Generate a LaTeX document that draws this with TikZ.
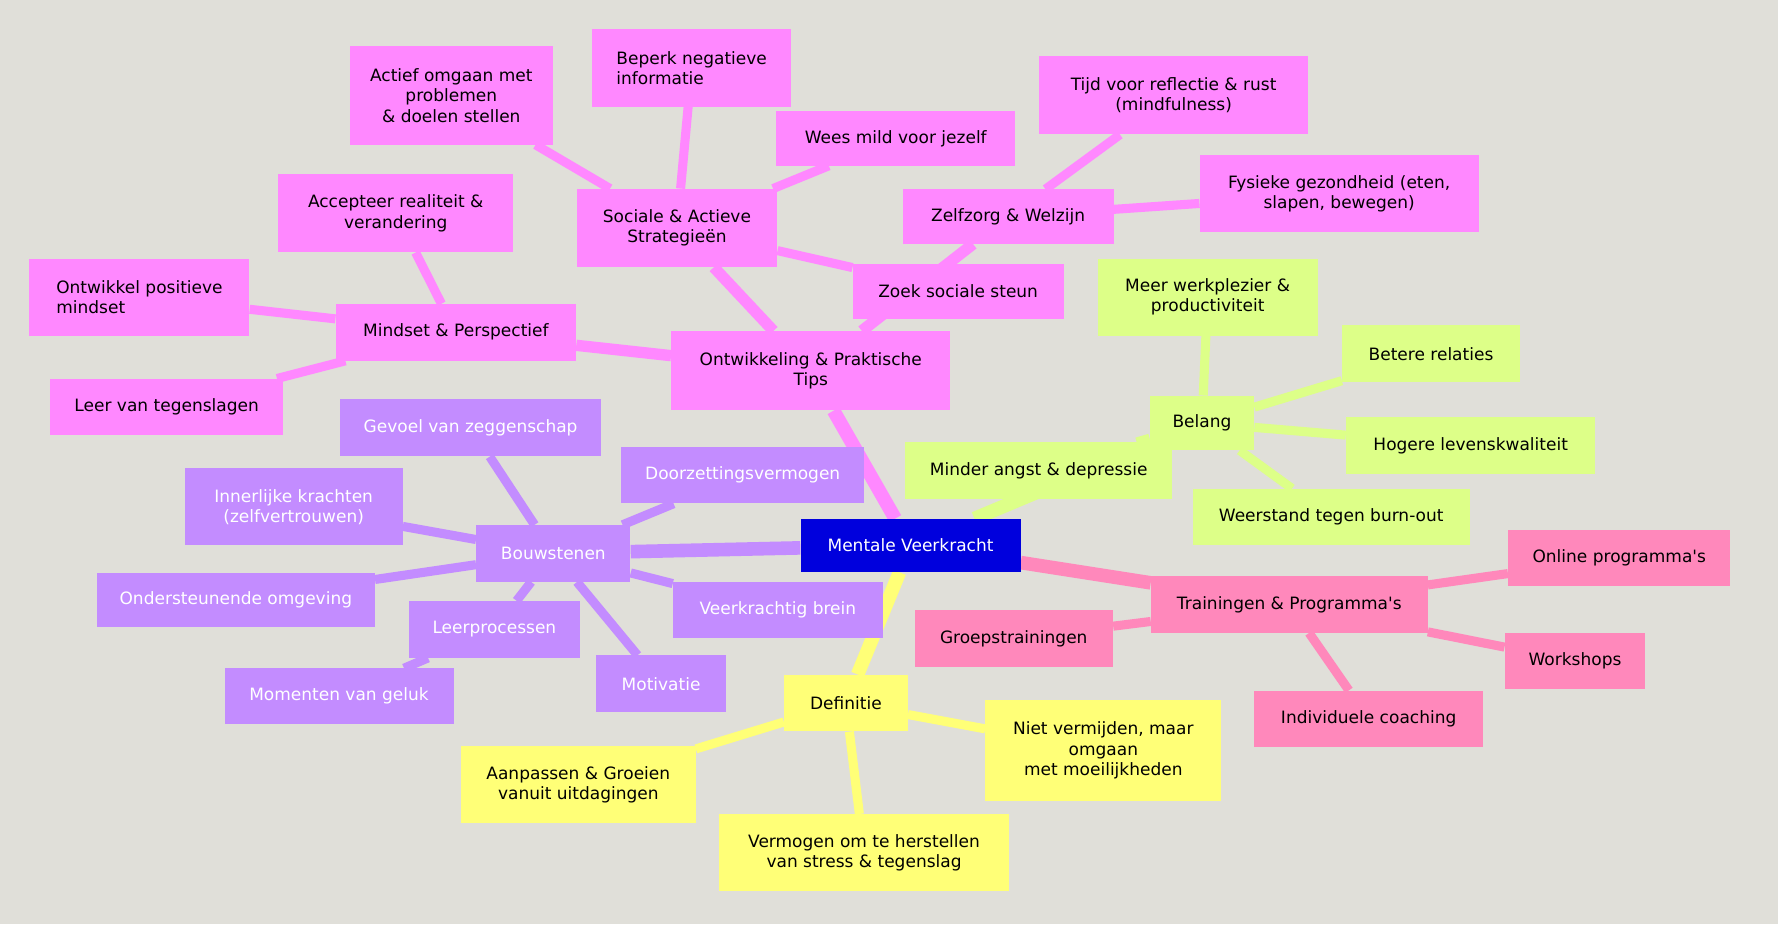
\documentclass[tikz,border=0pt]{standalone}
\usepackage{fontspec}
\setmainfont{DejaVu Sans}
\usetikzlibrary{backgrounds}
\definecolor{bg}{HTML}{E0DFD9}
\definecolor{cRoot}{HTML}{0000DD}
\definecolor{cMag}{HTML}{FF88FF}
\definecolor{cPur}{HTML}{C38CFF}
\definecolor{cGrn}{HTML}{DDFF88}
\definecolor{cPnk}{HTML}{FF88BB}
\definecolor{cYel}{HTML}{FFFF77}
\tikzset{
 box/.style={inner sep=0pt, align=center, font=\fontsize{15}{18}\selectfont, text=black},
 bm/.style={box, fill=cMag},
 bp/.style={box, fill=cPur, text=white},
 bg2/.style={box, fill=cGrn},
 bk/.style={box, fill=cPnk},
 by/.style={box, fill=cYel},
 e1/.style={line width=12pt},
 e2/.style={line width=8pt},
}
\newcommand{\bx}[6]{\node[#1, minimum width=#4pt, minimum height=#5pt] (#2) at (#3) {#6};}
\begin{document}
\begin{tikzpicture}[x=1pt,y=-1pt]
\useasboundingbox (0,0) rectangle (1568,815);
\bx{box, fill=cRoot, text=white}{root}{803,481}{194}{47}{Mentale Veerkracht}
% magenta
\bx{bm}{ont}{715,327}{246}{70}{Ontwikkeling \& Praktische\\Tips}
\bx{bm}{mind}{402,293}{212}{50}{Mindset \& Perspectief}
\bx{bm}{soc}{597,201}{177}{69}{Sociale \& Actieve\\Strategieën}
\bx{bm}{zelf}{889,191}{186}{48}{Zelfzorg \& Welzijn}
\bx{bm}{zoek}{845,257}{186}{48}{Zoek sociale steun}
\bx{bm}{act}{398,84}{179}{87}{Actief omgaan met\\problemen\\\& doelen stellen}
\bx{bm, align=left}{bep}{610,60}{176}{68}{Beperk negatieve\\informatie}
\bx{bm}{wees}{790,122}{211}{48}{Wees mild voor jezelf}
\bx{bm}{tijd}{1035,84}{237}{69}{Tijd voor reflectie \& rust\\(mindfulness)}
\bx{bm}{fys}{1181,171}{246}{68}{Fysieke gezondheid (eten,\\slapen, bewegen)}
\bx{bm}{acc}{349,188}{207}{69}{Accepteer realiteit \&\\verandering}
\bx{bm, align=left}{pos}{123,262}{194}{68}{Ontwikkel positieve\\mindset}
\bx{bm}{leer}{147,359}{206}{50}{Leer van tegenslagen}
% purple
\bx{bp}{bouw}{488,488}{136}{50}{Bouwstenen}
\bx{bp}{gev}{415,377}{230}{51}{Gevoel van zeggenschap}
\bx{bp}{door}{655,419}{214}{50}{Doorzettingsvermogen}
\bx{bp}{inn}{259,447}{192}{68}{Innerlijke krachten\\(zelfvertrouwen)}
\bx{bp}{ond}{208,529}{245}{48}{Ondersteunende omgeving}
\bx{bp}{lp}{436,555}{151}{50}{Leerprocessen}
\bx{bp}{brein}{686,538}{185}{50}{Veerkrachtig brein}
\bx{bp}{gel}{299,614}{202}{49}{Momenten van geluk}
\bx{bp}{mot}{583,603}{114}{50}{Motivatie}
% green
\bx{bg2}{bel}{1060,373}{92}{48}{Belang}
\bx{bg2}{werk}{1065,262}{194}{68}{Meer werkplezier \&\\productiviteit}
\bx{bg2}{rel}{1262,312}{157}{50}{Betere relaties}
\bx{bg2}{lev}{1297,393}{220}{50}{Hogere levenskwaliteit}
\bx{bg2}{weer}{1174,456}{244}{50}{Weerstand tegen burn-out}
\bx{bg2}{angst}{916,415}{236}{50}{Minder angst \& depressie}
% pink
\bx{bk}{tr}{1137,533}{244}{50}{Trainingen \& Programma\textquotesingle s}
\bx{bk}{onl}{1428,492}{196}{49}{Online programma\textquotesingle s}
\bx{bk}{groep}{894,563}{175}{50}{Groepstrainingen}
\bx{bk}{work}{1389,583}{124}{50}{Workshops}
\bx{bk}{ind}{1207,634}{202}{50}{Individuele coaching}
% yellow
\bx{by}{def}{746,620}{109}{50}{Definitie}
\bx{by}{aan}{510,692}{207}{68}{Aanpassen \& Groeien\\vanuit uitdagingen}
\bx{by}{niet}{973,662}{208}{89}{Niet vermijden, maar\\omgaan\\met moeilijkheden}
\bx{by}{verm}{762,752}{256}{68}{Vermogen om te herstellen\\van stress \& tegenslag}
\begin{scope}[on background layer]
\fill[bg] (0,0) rectangle (1568,815);
\draw[e1,cMag] (root) -- (ont);
\draw[e1,cPur] (root) -- (bouw);
\draw[e1,cGrn] (root) -- (bel);
\draw[e1,cPnk] (root) -- (tr);
\draw[e1,cYel] (root) -- (def);
\foreach \a/\b in {ont/mind,ont/soc,ont/zelf}{\draw[line width=10pt,cMag] (\a) -- (\b);}
\foreach \a/\b in {soc/zoek,soc/act,soc/bep,soc/wees,zelf/tijd,zelf/fys,mind/acc,mind/pos,mind/leer}{\draw[e2,cMag] (\a) -- (\b);}
\foreach \b in {gev,door,inn,ond,lp,brein,mot}{\draw[e2,cPur] (bouw) -- (\b);}
\draw[e2,cPur] (lp) -- (gel);
\foreach \b in {werk,rel,lev,weer,angst}{\draw[e2,cGrn] (bel) -- (\b);}
\foreach \b in {onl,groep,work,ind}{\draw[e2,cPnk] (tr) -- (\b);}
\foreach \b in {aan,niet,verm}{\draw[e2,cYel] (def) -- (\b);}
\end{scope}
\end{tikzpicture}
\end{document}
